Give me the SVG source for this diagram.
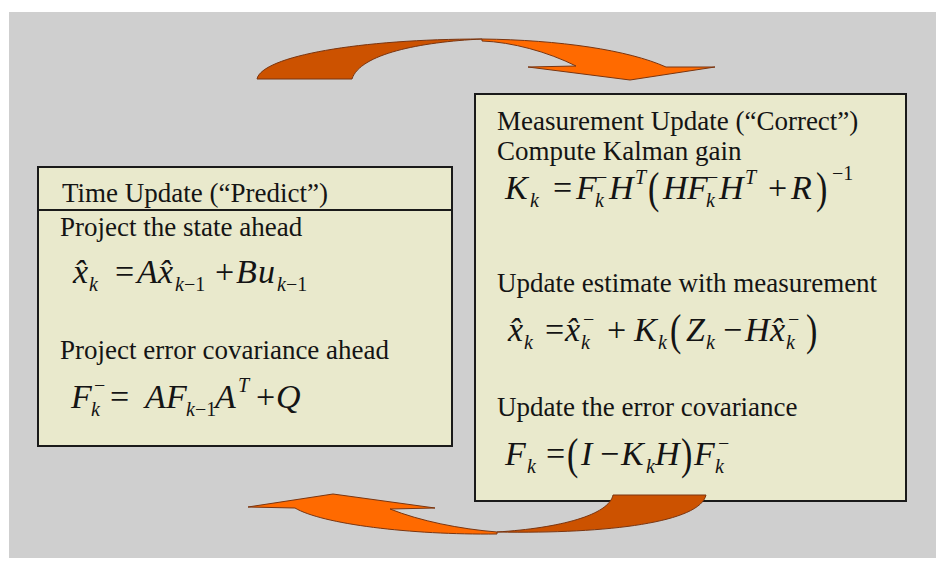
<svg xmlns="http://www.w3.org/2000/svg" width="936" height="568" viewBox="0 0 936 568">
<style>
.t{font-family:"Liberation Serif","Times New Roman",serif;font-size:27px;fill:#141414}
.f{font-family:"Liberation Serif","Times New Roman",serif;font-size:34px;fill:#141414}
.i{font-style:italic}
.s{font-style:italic;font-size:20px}
.u{font-size:20px}
.box{fill:#e9e9cc;stroke:#1a1a1a;stroke-width:2}
.dark{fill:#cc5200;stroke:#7a3510;stroke-width:1}
.bright{fill:#ff6a00;stroke:#7a3510;stroke-width:1}
</style>
<rect x="0" y="0" width="936" height="568" fill="#ffffff"/>
<rect x="9" y="12" width="927" height="546" fill="#cfcfcf"/>

<g id="time-update">
<rect class="box" x="38" y="167" width="414" height="279"/>
<line x1="38" y1="210" x2="452" y2="210" stroke="#1a1a1a" stroke-width="2"/>
<text class="t" x="62" y="202">Time Update (“Predict”)</text>
<text class="t" x="60" y="236">Project the state ahead</text>
<text class="f"><tspan class="i" x="73" y="283">x̂</tspan><tspan class="s" x="89" y="291">k</tspan><tspan x="115" y="283">=</tspan><tspan class="i" x="137" y="283">A</tspan><tspan class="i" x="158" y="283">x̂</tspan><tspan class="s" x="175" y="291">k</tspan><tspan class="u" x="184" y="291">−1</tspan><tspan x="215" y="283">+</tspan><tspan class="i" x="236" y="283">B</tspan><tspan class="i" x="258" y="283">u</tspan><tspan class="s" x="277" y="291">k</tspan><tspan class="u" x="286" y="291">−1</tspan></text>
<text class="t" x="60" y="359">Project error covariance ahead</text>
<text class="f"><tspan class="i" x="71" y="408">F</tspan><tspan class="s" x="91" y="416">k</tspan><tspan class="u" x="94" y="392">−</tspan><tspan x="110" y="408">=</tspan><tspan class="i" x="145" y="408">A</tspan><tspan class="i" x="166" y="408">F</tspan><tspan class="s" x="186" y="416">k</tspan><tspan class="u" x="195" y="416">−1</tspan><tspan class="i" x="215" y="408">A</tspan><tspan class="s" x="238" y="392">T</tspan><tspan x="256" y="408">+</tspan><tspan class="i" x="276" y="408">Q</tspan></text>
</g>

<g id="measurement-update">
<rect class="box" x="475" y="94" width="431" height="407"/>
<text class="t" x="497" y="130">Measurement Update (“Correct”)</text>
<text class="t" x="497" y="160">Compute Kalman gain</text>
<text class="f"><tspan class="i" x="505" y="199">K</tspan><tspan class="s" x="530" y="207">k</tspan><tspan x="553" y="199">=</tspan><tspan class="i" x="576" y="199">F</tspan><tspan class="s" x="595" y="207">k</tspan><tspan class="u" x="596" y="184">−</tspan><tspan class="i" x="609" y="199">H</tspan><tspan class="s" x="635" y="184">T</tspan><tspan class="i" x="663" y="199">H</tspan><tspan class="i" x="687" y="199">F</tspan><tspan class="s" x="706" y="207">k</tspan><tspan class="u" x="707" y="184">−</tspan><tspan class="i" x="719" y="199">H</tspan><tspan class="s" x="745" y="184">T</tspan><tspan x="768" y="199">+</tspan><tspan class="i" x="791" y="199">R</tspan><tspan class="u" x="832" y="180">−1</tspan></text>
<text class="f" transform="translate(648,203) scale(1,1.3)">(</text>
<text class="f" transform="translate(816,203) scale(1,1.3)">)</text>
<text class="t" x="497" y="292">Update estimate with measurement</text>
<text class="f"><tspan class="i" x="508" y="341">x̂</tspan><tspan class="s" x="524" y="349">k</tspan><tspan x="545" y="341">=</tspan><tspan class="i" x="565" y="341">x̂</tspan><tspan class="s" x="581" y="349">k</tspan><tspan class="u" x="583" y="326">−</tspan><tspan x="607" y="341">+</tspan><tspan class="i" x="634" y="341">K</tspan><tspan class="s" x="658" y="349">k</tspan><tspan class="i" x="686" y="341">Z</tspan><tspan class="s" x="706" y="349">k</tspan><tspan x="723" y="341">−</tspan><tspan class="i" x="745" y="341">H</tspan><tspan class="i" x="770" y="341">x̂</tspan><tspan class="s" x="786" y="349">k</tspan><tspan class="u" x="788" y="326">−</tspan></text>
<text class="f" transform="translate(670,345) scale(1,1.3)">(</text>
<text class="f" transform="translate(806,345) scale(1,1.3)">)</text>
<text class="t" x="497" y="416">Update the error covariance</text>
<text class="f"><tspan class="i" x="505" y="465">F</tspan><tspan class="s" x="527" y="473">k</tspan><tspan x="546" y="465">=</tspan><tspan class="i" x="581" y="465">I</tspan><tspan x="600" y="465">−</tspan><tspan class="i" x="621" y="465">K</tspan><tspan class="s" x="646" y="473">k</tspan><tspan class="i" x="655" y="465">H</tspan><tspan class="i" x="694" y="465">F</tspan><tspan class="s" x="715" y="473">k</tspan><tspan class="u" x="718" y="450">−</tspan></text>
<text class="f" transform="translate(567,469) scale(1,1.3)">(</text>
<text class="f" transform="translate(681,469) scale(1,1.3)">)</text>
</g>

<g id="connectors">
<g id="predict-to-correct">
<path class="dark" d="M257,79 C262,56 360,39 482,39 C420,42 360,54 352,79 Z"/>
<path class="bright" d="M482,39 C560,40 628,50 666,67 L715,67 L630,80 L528,67 L576,66 C548,52 512,42 482,41 Z"/>
</g>
<g id="correct-to-predict">
<path class="dark" d="M706,495 L613,495 C609,515 560,528 497,532 C610,534 700,522 706,495 Z"/>
<path class="bright" d="M497,534 C410,535 322,524 295,508 L248,507 L333,494 L435,508 L390,509 C420,521 460,529 497,532 Z"/>
</g>
</g>
</svg>
